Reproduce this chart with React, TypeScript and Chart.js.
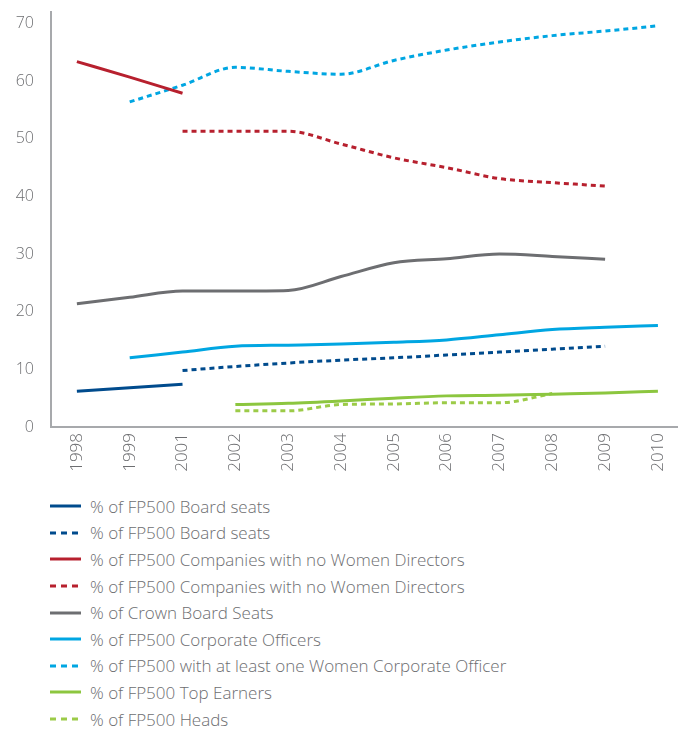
import React, { useEffect, useRef } from "react";
import { Chart, registerables } from "chart.js";

Chart.register(...registerables);

const years = ["1998", "1999", "2001", "2002", "2003", "2004", "2005", "2006", "2007", "2008", "2009", "2010"];

const boardSeatsA = [6.2, 6.8, 7.4, null, null, null, null, null, null, null, null, null];
const boardSeatsB = [null, null, 9.8, 10.5, 11.1, 11.6, 12.0, 12.5, 13.0, 13.5, 14.0, null];
const noWomenA = [63.4, 60.7, 57.9, null, null, null, null, null, null, null, null, null];
const noWomenB = [null, null, 51.3, 51.3, 51.3, 49.1, 46.7, 45.0, 43.1, 42.4, 41.8, null];
const crownSeats = [21.4, 22.5, 23.6, 23.6, 23.7, 26.1, 28.5, 29.2, 30.0, 29.6, 29.1, null];
const corpOfficers = [null, 12.0, 13.0, 14.0, 14.2, 14.4, 14.7, 15.1, 16.0, 16.9, 17.3, 17.6];
const atLeastOne = [null, 56.4, 59.3, 62.4, 61.7, 61.2, 63.6, 65.4, 66.8, 67.9, 68.7, 69.6];
const topEarners = [null, null, null, 3.9, 4.1, 4.5, 5.0, 5.4, 5.5, 5.7, 5.9, 6.2];
const heads = [null, null, null, 2.8, 2.8, 3.9, 4.0, 4.2, 4.2, 5.8, null, null];

const yTicks = [0, 10, 20, 30, 40, 50, 60, 70];

type Series = { label: string; data: (number | null)[]; color: string; dashed: boolean };

const series: Series[] = [
  { label: "% of FP500 Board seats", data: boardSeatsA, color: "#004b8d", dashed: false },
  { label: "% of FP500 Board seats", data: boardSeatsB, color: "#004b8d", dashed: true },
  { label: "% of FP500 Companies with no Women Directors", data: noWomenA, color: "#b7202e", dashed: false },
  { label: "% of FP500 Companies with no Women Directors", data: noWomenB, color: "#b7202e", dashed: true },
  { label: "% of Crown Board Seats", data: crownSeats, color: "#6d6e71", dashed: false },
  { label: "% of FP500 Corporate Officers", data: corpOfficers, color: "#00a6e2", dashed: false },
  { label: "% of FP500 with at least one Women Corporate Officer", data: atLeastOne, color: "#00a6e2", dashed: true },
  { label: "% of FP500 Top Earners", data: topEarners, color: "#8cc63f", dashed: false },
  { label: "% of FP500 Heads", data: heads, color: "#9ccb48", dashed: true },
];

const FONT = "'Open Sans', 'Noto Sans', sans-serif";
const TEXT = "#6d6e71";

export default function App() {
  const ref = useRef<HTMLCanvasElement | null>(null);

  useEffect(() => {
    if (!ref.current) return;
    const chart = new Chart(ref.current, {
      type: "line",
      data: {
        datasets: series.map((s) => ({
          label: s.label,
          data: s.data.map((v, i) => ({ x: i, y: v })),
          borderColor: s.color,
          backgroundColor: s.color,
          borderWidth: 3,
          borderDash: s.dashed ? [5, 4] : [],
          pointRadius: 0,
          pointHoverRadius: 0,
          cubicInterpolationMode: "monotone" as const,
          spanGaps: false,
          fill: false,
        })),
      },
      options: {
        animation: false,
        responsive: true,
        maintainAspectRatio: false,
        layout: { padding: { top: 12, left: 0, right: 0, bottom: 0 } },
        plugins: { legend: { display: false }, tooltip: { enabled: false } },
        scales: {
          x: {
            type: "linear",
            min: -0.49,
            max: 11.38,
            grid: { display: false, drawTicks: false },
            border: { display: true, color: "#a7a9ac", width: 2 },
            afterBuildTicks: (scale: any) => {
              scale.ticks = years.map((_, i) => ({ value: i }));
            },
            afterFit: (scale: any) => {
              scale.height = 48;
              scale.paddingTop = 0;
              scale.paddingBottom = 0;
              scale.paddingLeft = 0;
              scale.paddingRight = 0;
            },
            ticks: {
              autoSkip: false,
              minRotation: 90,
              maxRotation: 90,
              padding: 6,
              color: TEXT,
              font: { family: FONT, size: 17, weight: 300 },
              callback: (v: any) => years[Math.round(Number(v))] ?? "",
            },
          },
          y: {
            type: "linear",
            min: 0,
            max: 72,
            grid: { display: false, drawTicks: false },
            border: { display: true, color: "#a7a9ac", width: 2 },
            afterBuildTicks: (scale: any) => {
              scale.ticks = yTicks.map((v) => ({ value: v }));
            },
            afterFit: (scale: any) => {
              scale.width = 51;
              scale.paddingTop = 0;
              scale.paddingBottom = 0;
            },
            ticks: {
              padding: 17,
              color: TEXT,
              font: { family: FONT, size: 16, weight: 300 },
            },
          },
        },
      },
    });
    return () => chart.destroy();
  }, []);

  return (
    <div style={{ position: "absolute", left: 0, top: 0, width: 678, fontFamily: FONT }}>
      <div style={{ position: "relative", width: 678, height: 475 }}>
        <canvas ref={ref} />
      </div>
      <div style={{ position: "absolute", left: 50, top: 493 }}>
        {series.map((s, i) => (
          <div key={i} style={{ display: "flex", alignItems: "center", height: 26.6 }}>
            <svg width={32} height={6} style={{ display: "block" }}>
              <line
                x1={0}
                y1={3}
                x2={31}
                y2={3}
                stroke={s.color}
                strokeWidth={3}
                strokeDasharray={s.dashed ? "6 5" : undefined}
              />
            </svg>
            <span style={{ marginLeft: 8, fontSize: 17, color: TEXT, fontWeight: 300, whiteSpace: "nowrap" }}>
              {s.label}
            </span>
          </div>
        ))}
      </div>
    </div>
  );
}
